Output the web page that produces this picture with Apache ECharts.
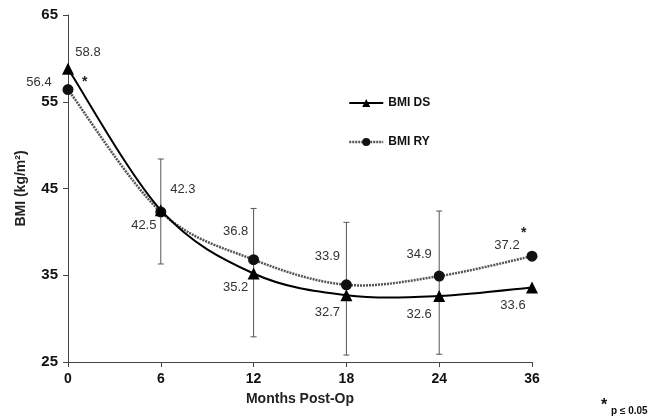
<!DOCTYPE html>
<html>
<head>
<meta charset="utf-8">
<script src="https://cdn.jsdelivr.net/npm/echarts@6/dist/echarts.min.js"></script>
<style>
  html, body { margin: 0; padding: 0; background: #fff; }
  #chart { width: 652px; height: 420px; }
</style>
</head>
<body>
<div id="chart"></div>
<script>
// months post-op (x categories)
const months = ['0', '6', '12', '18', '24', '36'];
// BMI values
const bmiDS = [58.8, 42.5, 35.2, 32.7, 32.6, 33.6];
const bmiRY = [56.4, 42.3, 36.8, 33.9, 34.9, 37.2];
// error bars (low / high), null where none drawn
const errLow = [null, 36.3, 27.9, 25.8, 25.9, null];
const errHigh = [null, 48.4, 42.7, 41.1, 42.4, null];
const yTicks = [25, 35, 45, 55, 65];

// label offsets for each point, just styling
const dsLabelOffsets = [[20, -16], [-17, 15], [-18, 14], [-19, 17], [-20, 18], [-19, 18]];
const ryLabelOffsets = [[-29, -7], [22, -23], [-18, -28], [-19, -28], [-20, -22], [-25, -11]];

const chart = echarts.init(document.getElementById('chart'));
const font = 'Liberation Sans, Arial, sans-serif';

const dsLine = { stroke: '#000', lineWidth: 2 };
const ryLine = { stroke: '#555', lineWidth: 2.5, lineDash: [2, 1] };

function labelData(vals, offs) {
  return vals.map((v, i) => ({
    value: v,
    label: { show: true, position: 'inside', offset: offs[i], formatter: String(v) }
  }));
}

// excel-like smoothed line (catmull-rom through the points, placed with api.coord)
function splineSeries(vals, style) {
  return {
    type: 'custom',
    silent: true,
    z: 2,
    renderItem(params, api) {
      if (params.dataIndex !== 0) return null;
      const p = vals.map((v, i) => api.coord([i, v]));
      let d = 'M' + p[0][0] + ' ' + p[0][1];
      for (let i = 0; i < p.length - 1; i++) {
        const p0 = p[Math.max(i - 1, 0)], p1 = p[i], p2 = p[i + 1], p3 = p[Math.min(i + 2, p.length - 1)];
        const c1 = [p1[0] + (p2[0] - p0[0]) / 6, p1[1] + (p2[1] - p0[1]) / 6];
        const c2 = [p2[0] - (p3[0] - p1[0]) / 6, p2[1] - (p3[1] - p1[1]) / 6];
        d += ' C' + c1[0] + ' ' + c1[1] + ' ' + c2[0] + ' ' + c2[1] + ' ' + p2[0] + ' ' + p2[1];
      }
      return {
        type: 'path',
        shape: { pathData: d },
        style: Object.assign({ fill: null }, style)
      };
    },
    data: vals.map((v, i) => [i, v])
  };
}

const option = {
  animation: false,
  backgroundColor: '#fff',
  textStyle: { fontFamily: font },
  grid: { left: 68, right: 120, top: 15, bottom: 58 },
  legend: {
    orient: 'vertical',
    left: 343,
    top: 92,
    itemGap: 27,
    itemWidth: 34,
    itemHeight: 10,
    textStyle: { fontFamily: font, fontWeight: 'bold', fontSize: 12, color: '#111' },
    data: [
      { name: 'BMI DS', lineStyle: { width: 2, color: '#000', opacity: 1 } },
      { name: 'BMI RY', lineStyle: { width: 2.5, color: '#555', type: [2, 1], opacity: 1 } }
    ]
  },
  xAxis: {
    type: 'category',
    data: months,
    boundaryGap: false,
    name: 'Months Post-Op',
    nameLocation: 'middle',
    nameGap: 30,
    nameTextStyle: { fontFamily: font, fontWeight: 'bold', fontSize: 14, color: '#222' },
    axisLine: { lineStyle: { color: '#444', width: 1 } },
    axisTick: { show: true, alignWithLabel: true, length: 5, lineStyle: { color: '#444' } },
    axisLabel: { fontFamily: font, fontWeight: 'bold', fontSize: 14, color: '#111', margin: 10 },
    splitLine: { show: false }
  },
  yAxis: {
    type: 'value',
    min: yTicks[0],
    max: yTicks[yTicks.length - 1],
    interval: 10,
    name: 'BMI (kg/m²)',
    nameLocation: 'middle',
    nameGap: 40,
    nameTextStyle: { fontFamily: font, fontWeight: 'bold', fontSize: 14, color: '#222' },
    axisLine: { show: true, lineStyle: { color: '#444', width: 1 } },
    axisTick: { show: true, length: 5, lineStyle: { color: '#444' } },
    axisLabel: { fontFamily: font, fontWeight: 'bold', fontSize: 15, color: '#111', margin: 10 },
    splitLine: { show: false }
  },
  series: [
    {
      name: 'error',
      type: 'custom',
      silent: true,
      z: 1,
      renderItem(params, api) {
        const i = api.value(0);
        if (errLow[i] == null) return null;
        const lo = api.coord([i, errLow[i]]);
        const hi = api.coord([i, errHigh[i]]);
        const cap = 3;
        const st = { stroke: '#555', lineWidth: 1 };
        return {
          type: 'group',
          children: [
            { type: 'line', shape: { x1: lo[0], y1: lo[1], x2: hi[0], y2: hi[1] }, style: st },
            { type: 'line', shape: { x1: hi[0] - cap, y1: hi[1], x2: hi[0] + cap, y2: hi[1] }, style: st },
            { type: 'line', shape: { x1: lo[0] - cap, y1: lo[1], x2: lo[0] + cap, y2: lo[1] }, style: st }
          ]
        };
      },
      data: months.map((m, i) => [i])
    },
    splineSeries(bmiRY, ryLine),
    splineSeries(bmiDS, dsLine),
    {
      name: 'BMI RY',
      type: 'line',
      z: 3,
      symbol: 'circle',
      symbolSize: 11,
      itemStyle: { color: '#111' },
      lineStyle: { width: 0, opacity: 0 },
      label: { fontFamily: font, fontSize: 13, color: '#333' },
      data: labelData(bmiRY, ryLabelOffsets)
    },
    {
      name: 'BMI DS',
      type: 'line',
      z: 4,
      symbol: 'triangle',
      symbolSize: 12,
      itemStyle: { color: '#000' },
      lineStyle: { width: 0, opacity: 0 },
      label: { fontFamily: font, fontSize: 13, color: '#333' },
      data: labelData(bmiDS, dsLabelOffsets)
    }
  ],
  graphic: [
    { type: 'text', left: 82, top: 75, style: { text: '*', font: 'bold 14px ' + font, fill: '#222' } },
    { type: 'text', left: 521, top: 226, style: { text: '*', font: 'bold 14px ' + font, fill: '#222' } },
    { type: 'text', left: 601, top: 398, style: { text: '*', font: 'bold 16px ' + font, fill: '#111' } },
    { type: 'text', left: 611, top: 406, style: { text: 'p ≤ 0.05', font: 'bold 10px ' + font, fill: '#111' } }
  ]
};

chart.setOption(option);
</script>
</body>
</html>
